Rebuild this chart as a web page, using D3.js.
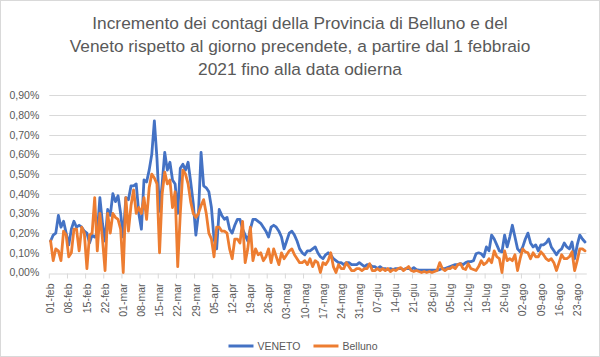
<!DOCTYPE html>
<html><head><meta charset="utf-8">
<script src="https://cdn.jsdelivr.net/npm/d3@7"></script>
<style>
body{margin:0;background:#fff}
svg{display:block}
text{font-family:'Liberation Sans',Arial,sans-serif;fill:#595959}
</style>
</head><body>
<svg id="chart" width="600" height="357"></svg>
<script>
const titleLines = [
  "Incremento dei contagi della Provincia di Belluno e del",
  "Veneto rispetto al giorno precendete, a partire dal 1 febbraio",
  "2021 fino alla data odierna"
];
const seriesNames = ["VENETO", "Belluno"];
const seriesColors = ["#4472C4", "#ED7D31"];
const yTickValues = [0, 0.1, 0.2, 0.3, 0.4, 0.5, 0.6, 0.7, 0.8, 0.9];
const yTickLabels = ["0,00%","0,10%","0,20%","0,30%","0,40%","0,50%","0,60%","0,70%","0,80%","0,90%"];
const xTickLabels = ["01-feb","08-feb","15-feb","22-feb","01-mar","08-mar","15-mar","22-mar","29-mar",
  "05-apr","12-apr","19-apr","26-apr","03-mag","10-mag","17-mag","24-mag","31-mag","07-giu","14-giu",
  "21-giu","28-giu","05-lug","12-lug","19-lug","26-lug","02-ago","09-ago","16-ago","23-ago"];
const startDate = new Date(2021, 1, 1);

// daily increase (%), 1 Feb - 26 Aug 2021
const veneto = [
  0.16,0.19,0.20,0.29,0.23,0.26,0.20,
  0.14,0.22,0.26,0.23,0.24,0.23,0.21,
  0.20,0.15,0.19,0.18,0.20,0.38,0.25,
  0.16,0.32,0.29,0.40,0.36,0.39,0.30,
  0.18,0.38,0.37,0.44,0.44,0.45,0.30,
  0.22,0.47,0.46,0.52,0.60,0.77,0.58,
  0.31,0.45,0.61,0.52,0.56,0.47,0.45,
  0.30,0.53,0.55,0.52,0.56,0.46,0.35,
  0.19,0.30,0.61,0.44,0.43,0.41,0.33,
  0.17,0.12,0.32,0.29,0.27,0.28,0.22,
  0.20,0.24,0.27,0.27,0.22,0.19,0.16,
  0.22,0.27,0.27,0.26,0.25,0.23,0.21,
  0.18,0.23,0.24,0.23,0.21,0.18,0.12,
  0.16,0.20,0.21,0.19,0.16,0.12,0.10,
  0.09,0.11,0.11,0.12,0.13,0.10,0.08,
  0.07,0.09,0.10,0.09,0.07,0.06,0.05,
  0.05,0.04,0.05,0.05,0.04,0.04,0.04,
  0.05,0.04,0.03,0.04,0.04,0.03,0.03,
  0.02,0.03,0.02,0.02,0.015,0.02,0.015,
  0.02,0.02,0.02,0.015,0.02,0.02,0.015,
  0.025,0.015,0.012,0.012,0.012,0.012,0.012,
  0.012,0.012,0.012,0.015,0.02,0.02,0.025,
  0.03,0.035,0.04,0.04,0.045,0.04,0.05,
  0.055,0.055,0.06,0.095,0.10,0.095,0.08,
  0.13,0.11,0.19,0.17,0.14,0.11,0.105,
  0.19,0.13,0.18,0.24,0.18,0.12,0.105,
  0.13,0.17,0.20,0.15,0.13,0.14,0.11,
  0.14,0.14,0.15,0.17,0.13,0.11,0.09,
  0.11,0.12,0.15,0.13,0.12,0.155,0.07,
  0.14,0.19,0.17,0.155
];
const belluno = [
  0.16,0.06,0.12,0.11,0.06,0.21,0.19,
  0.08,0.10,0.22,0.22,0.11,0.23,0.20,
  0.02,0.19,0.20,0.38,0.11,0.30,0.17,
  0.01,0.30,0.20,0.30,0.28,0.27,0.22,
  0.00,0.38,0.21,0.34,0.42,0.30,0.33,
  0.30,0.38,0.27,0.43,0.50,0.48,0.45,
  0.10,0.40,0.51,0.45,0.47,0.33,0.41,
  0.03,0.30,0.52,0.50,0.45,0.36,0.30,
  0.28,0.30,0.34,0.37,0.30,0.20,0.17,
  0.08,0.23,0.23,0.21,0.21,0.20,0.12,
  0.07,0.17,0.17,0.15,0.26,0.05,0.12,
  0.23,0.06,0.12,0.09,0.10,0.06,0.08,
  0.12,0.05,0.12,0.08,0.04,0.10,0.07,
  0.09,0.11,0.12,0.09,0.07,0.05,0.05,
  0.06,0.04,0.07,0.03,0.06,0.05,0.00,
  0.05,0.04,0.06,0.10,0.03,0.00,0.04,
  0.02,0.02,0.05,0.03,0.01,0.01,0.02,
  0.02,0.01,0.02,0.02,0.045,0.01,0.01,
  0.02,0.01,0.02,0.01,0.02,0.005,0.015,
  0.01,0.02,0.025,0.01,0.02,0.03,0.01,
  0.005,0.01,0.005,0.0,0.005,0.0,0.005,
  0.0,0.005,0.01,0.05,0.02,0.01,0.02,
  0.02,0.03,0.02,0.04,0.045,0.02,0.015,
  0.045,0.02,0.015,0.01,0.03,0.06,0.04,
  0.05,0.07,0.05,0.11,0.08,0.07,0.00,
  0.11,0.06,0.07,0.06,0.09,0.01,0.07,
  0.12,0.105,0.10,0.07,0.10,0.08,0.08,
  0.105,0.09,0.07,0.06,0.07,0.05,0.01,
  0.05,0.09,0.07,0.07,0.08,0.105,0.01,
  0.06,0.12,0.12,0.11
];

const n = veneto.length;
const dates = d3.range(n).map(i => d3.timeDay.offset(startDate, i));
const svg = d3.select("#chart");
const W = 600, H = 357;
const L = 49.3, R = 586.3, T = 95.3, B = 272.5;

// chart border
svg.append("rect").attr("x",0.5).attr("y",0.5).attr("width",W-1).attr("height",H-1)
  .attr("fill","#fff").attr("stroke","#d9d9d9");

// title
const tg = svg.append("g");
const tl = tg.selectAll("text").data(titleLines).join("text")
  .attr("x", 300).attr("y", (d,i) => 29 + i*23)
  .attr("text-anchor","middle").style("font-size","18px").text(d => d);
const w2 = tl.nodes()[1].getComputedTextLength();
const fs = 18 * 461 / w2;
tl.style("font-size", fs + "px");

const x = d3.scaleBand().domain(d3.range(n)).range([L, R]).padding(0);
const y = d3.scaleLinear().domain([0, 0.9]).range([B, T]);
const cx = i => x(i) + x.bandwidth()/2;

// gridlines
svg.append("g").selectAll("line").data(yTickValues.slice(1)).join("line")
  .attr("x1", L).attr("x2", R)
  .attr("y1", d => Math.round(y(d)) + 0.5).attr("y2", d => Math.round(y(d)) + 0.5)
  .attr("stroke","#d9d9d9").attr("stroke-width",1);

// y axis labels
const yAxis = d3.axisLeft(y).tickValues(yTickValues)
  .tickFormat((d,i) => yTickLabels[i]).tickSize(0).tickPadding(0);
const yg = svg.append("g").attr("transform", `translate(${L-10},0)`).call(yAxis);
yg.select(".domain").remove();
yg.selectAll("text").style("font-size","10.5px").style("fill","#595959")
  .style("font-family","'Liberation Sans',Arial,sans-serif");

// x axis
const xAxis = d3.axisBottom(x).tickValues(d3.range(0, n, 7))
  .tickFormat((d,i) => xTickLabels[i]).tickSize(5).tickSizeOuter(0);
const xg = svg.append("g").attr("transform", `translate(0,${Math.round(B)+0.5})`).call(xAxis);
xg.select(".domain").attr("stroke","#d9d9d9").attr("stroke-width",1);
xg.selectAll(".tick line").attr("stroke","#d9d9d9")
  .attr("transform", `translate(${-x.bandwidth()/2},0)`);
xg.selectAll(".tick text")
  .attr("transform","rotate(-90)").attr("x",-10).attr("y",0).attr("dy","0.35em")
  .style("text-anchor","end").style("font-size","10.5px").style("fill","#595959")
  .style("font-family","'Liberation Sans',Arial,sans-serif");

// lines
const line = d3.line().x((d,i) => cx(i)).y(d => y(d)).curve(d3.curveLinear);
[veneto, belluno].forEach((s, k) => {
  svg.append("path").datum(s).attr("d", line)
    .attr("fill","none").attr("stroke", seriesColors[k]).attr("stroke-width", 2.8)
    .attr("stroke-linejoin","round").attr("stroke-linecap","round");
});

// legend
const lg = svg.append("g");
let cur = 0;
const items = [];
seriesNames.forEach((name, k) => {
  const g = lg.append("g");
  g.append("line").attr("x1", 0).attr("x2", 25).attr("y1", 0).attr("y2", 0)
    .attr("stroke", seriesColors[k]).attr("stroke-width", 3);
  const t = g.append("text").attr("x", 29).attr("y", 0).attr("dy","0.35em")
    .style("font-size","10.5px").text(name);
  const w = 29 + t.node().getComputedTextLength();
  g.attr("transform", `translate(${cur},346)`);
  cur += w + 13;
});
const totalW = cur - 13;
lg.attr("transform", `translate(${303 - totalW/2},0)`);
</script>
</body></html>
